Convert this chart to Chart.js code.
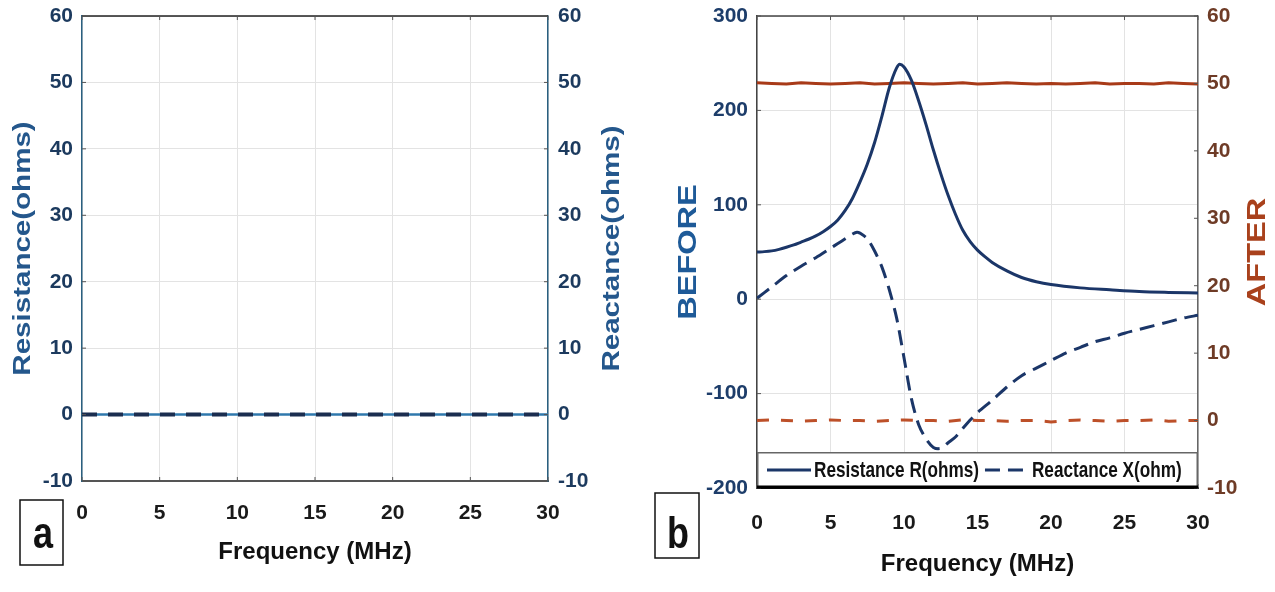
<!DOCTYPE html>
<html><head><meta charset="utf-8">
<script src="https://cdn.jsdelivr.net/npm/chart.js@4.4.1/dist/chart.umd.min.js"></script>
<style>
html,body{margin:0;padding:0;background:#fff;}
#wrap{position:relative;width:1275px;height:592px;overflow:hidden;background:#fff;}
canvas{position:absolute;top:0;}
#ca{left:0;} #cb{left:640px;}
</style></head><body>
<div id="wrap"><canvas id="ca" width="640" height="592"></canvas><canvas id="cb" width="635" height="592"></canvas></div>
<script>
const FONT = "'Liberation Sans', Arial, Helvetica, sans-serif";

// ---------- Data: panel a ----------
const freqA = [0, 5, 10, 15, 20, 25, 30];
const resistanceA = [0, 0, 0, 0, 0, 0, 0];
const reactanceA = [0, 0, 0, 0, 0, 0, 0];

// ---------- Data: panel b (BEFORE, left axis) ----------
const freqR = [0, 0.5, 1, 1.5, 2, 2.5, 3, 3.5, 4, 4.5, 5, 5.5, 6, 6.5, 7, 7.5, 8, 8.5, 9, 9.5, 9.7, 10, 10.5, 11, 11.5, 12, 12.5, 13, 13.5, 14, 14.5, 15, 15.5, 16, 17, 18, 19, 20, 22, 24, 26, 28, 30];
const resistanceBefore = [50, 50.4, 51.2, 52.8, 55, 57.5, 60.5, 63.5, 67, 71.5, 77, 84, 94, 107, 124, 143, 166, 194, 224, 245, 249, 246, 232, 210, 185, 158, 133, 110, 90, 73, 61, 52, 45, 39, 30, 23, 18.5, 15.5, 12, 10, 8.2, 7.2, 6.5];

const freqX = [0, 1, 2, 3, 4, 5, 5.5, 6, 6.5, 6.8, 7, 7.5, 8, 8.5, 9, 9.5, 10, 10.5, 11, 11.5, 12, 12.5, 13, 13.5, 14, 14.5, 15, 16, 17, 18, 19, 20, 21, 22, 23, 24, 25, 26, 27, 28, 29, 30];
const reactanceBefore = [1, 13, 25, 35, 44, 54, 59, 64, 69, 71, 70, 64, 51, 34, 10, -20, -62, -105, -133, -148, -157, -158, -152, -146, -137, -128, -120, -107, -93, -81, -73, -65, -57, -51, -45, -41, -36, -32, -28, -24, -20, -17];

// ---------- Data: panel b (AFTER, right axis) ----------
const freqAfter = [0, 1, 2, 3, 4, 5, 6, 7, 8, 9, 10, 11, 12, 13, 14, 15, 16, 17, 18, 19, 20, 21, 22, 23, 24, 25, 26, 27, 28, 29, 30];
const resistanceAfter = [50.1, 50.0, 49.9, 50.1, 50.0, 49.9, 50.0, 50.1, 49.9, 50.0, 50.1, 50.0, 49.9, 50.0, 50.1, 49.9, 50.0, 50.1, 50.0, 49.9, 50.0, 49.9, 50.0, 50.1, 49.9, 50.0, 50.0, 49.9, 50.1, 50.0, 49.9];
const reactanceAfter = [0.0, 0.1, 0.0, -0.1, 0.0, 0.1, 0.0, 0.0, -0.1, 0.0, 0.1, 0.0, 0.0, -0.1, 0.1, 0.0, 0.0, -0.1, 0.0, 0.0, -0.2, 0.0, 0.1, 0.0, -0.1, 0.0, 0.0, 0.1, -0.1, 0.0, 0.0];

// ---------- Tick labels ----------
const xTicks = [0, 5, 10, 15, 20, 25, 30];
const yTicksA = [-10, 0, 10, 20, 30, 40, 50, 60];
const yTicksBefore = [-200, -100, 0, 100, 200, 300];
const yTicksAfter = [-10, 0, 10, 20, 30, 40, 50, 60];

// ---------- Text ----------
const xTitle = 'Frequency (MHz)';
const yTitleA = 'Resistance(ohms)';
const y2TitleA = 'Reactance(ohms)';
const yTitleB = 'BEFORE';
const y2TitleB = 'AFTER';
const legendLabels = ['Resistance R(ohms)', 'Reactance X(ohm)'];

const pts = (xs, ys) => xs.map((x, i) => ({x: x, y: ys[i]}));
const setTicks = arr => s => { s.ticks = arr.map(v => ({value: v})); };
const fitY = w => s => { s.width = w; s.paddingTop = 0; s.paddingBottom = 0; };
const tickFont = {family: FONT, size: 21, weight: 'bold'};

function decoPlugin(cfg) {
  return {
    id: 'deco_' + cfg.letter,
    afterDraw(chart) {
      const ctx = chart.ctx, ca = chart.chartArea;
      ctx.save();
      ctx.strokeStyle = cfg.topColor; ctx.lineWidth = 1.5;
      ctx.beginPath(); ctx.moveTo(ca.left, ca.top); ctx.lineTo(ca.right, ca.top); ctx.stroke();
      ctx.strokeStyle = '#555'; ctx.lineWidth = 1;
      const xs = chart.scales.x;
      xs.ticks.forEach(t => {
        const px = xs.getPixelForValue(t.value);
        ctx.beginPath(); ctx.moveTo(px, ca.bottom); ctx.lineTo(px, ca.bottom - 4);
        ctx.moveTo(px, ca.top); ctx.lineTo(px, ca.top + 4); ctx.stroke();
      });
      ['y', 'y2'].forEach(id => {
        const s = chart.scales[id];
        s.ticks.forEach(t => {
          const py = s.getPixelForValue(t.value);
          ctx.beginPath();
          if (id === 'y') { ctx.moveTo(ca.left, py); ctx.lineTo(ca.left + 4, py); }
          else { ctx.moveTo(ca.right, py); ctx.lineTo(ca.right - 4, py); }
          ctx.stroke();
        });
      });
      cfg.vtitles.forEach(v => {
        ctx.save();
        ctx.translate(v.x, (ca.top + ca.bottom) / 2 + (v.dy || 0));
        ctx.rotate(-Math.PI / 2);
        ctx.scale(v.stretch, 1);
        ctx.font = 'bold ' + v.size + 'px ' + FONT;
        ctx.fillStyle = v.color;
        ctx.textAlign = 'center'; ctx.textBaseline = 'middle';
        ctx.fillText(v.text, 0, 0);
        ctx.restore();
      });
      if (cfg.legend) {
        const ds = chart.data.datasets;
        const h = 36, top = ca.bottom - h;
        ctx.fillStyle = '#fff';
        ctx.fillRect(ca.left, top, ca.right - ca.left, h);
        ctx.strokeStyle = '#666'; ctx.lineWidth = 1.5;
        ctx.strokeRect(ca.left + 0.75, top + 0.75, ca.right - ca.left - 1.5, h - 1.5);
        ctx.strokeStyle = '#000'; ctx.lineWidth = 3;
        ctx.beginPath(); ctx.moveTo(ca.left, ca.bottom - 1); ctx.lineTo(ca.right, ca.bottom - 1); ctx.stroke();
        const cy = top + h / 2;
        ctx.font = 'bold 22px ' + FONT;
        const sx = 0.78;
        let x = ca.left + 10;
        [0, 1].forEach(i => {
          const d = ds[i];
          ctx.save();
          ctx.strokeStyle = d.borderColor; ctx.lineWidth = d.borderWidth;
          ctx.setLineDash(d.borderDash || []);
          ctx.beginPath(); ctx.moveTo(x, cy); ctx.lineTo(x + 44, cy); ctx.stroke();
          ctx.restore();
          x += 47;
          ctx.save();
          ctx.translate(x, cy + 1); ctx.scale(sx, 1);
          ctx.fillStyle = '#111'; ctx.textAlign = 'left'; ctx.textBaseline = 'middle';
          ctx.fillText(legendLabels[i], 0, 0);
          ctx.restore();
          x += ctx.measureText(legendLabels[i]).width * sx + 6;
        });
      }
      const b = cfg.box;
      ctx.strokeStyle = '#111'; ctx.lineWidth = 1.5;
      ctx.fillStyle = '#fff';
      ctx.fillRect(b.x, b.y, b.w, b.h);
      ctx.strokeRect(b.x, b.y, b.w, b.h);
      ctx.save();
      ctx.translate(b.cx, b.base); ctx.scale(1, 1.22);
      ctx.font = 'bold 36px ' + FONT; ctx.fillStyle = '#111';
      ctx.textAlign = 'center'; ctx.textBaseline = 'alphabetic';
      ctx.fillText(cfg.letter, 0, 0);
      ctx.restore();
      ctx.restore();
    }
  };
}

// ---------- Panel a ----------
new Chart(document.getElementById('ca'), {
  type: 'line',
  data: {
    datasets: [
      {label: legendLabels[0], data: pts(freqA, resistanceA), yAxisID: 'y', borderColor: '#2f78ad', borderWidth: 2.5, pointRadius: 0, order: 1},
      {label: legendLabels[1], data: pts(freqA, reactanceA), yAxisID: 'y2', borderColor: '#1b2d4f', borderWidth: 4, borderDash: [15, 11], pointRadius: 0, order: 0}
    ]
  },
  options: {
    responsive: false, animation: false, devicePixelRatio: 1,
    layout: {padding: {top: 16, left: 0, right: 0, bottom: 0}},
    plugins: {legend: {display: false}, tooltip: {enabled: false}},
    scales: {
      x: {type: 'linear', min: 0, max: 30, afterBuildTicks: setTicks(xTicks), afterFit: s => { s.height = 111; },
        ticks: {color: '#1a1a1a', font: tickFont, padding: 20, maxRotation: 0, autoSkip: false},
        grid: {color: '#e3e3e3', drawTicks: false}, border: {color: '#555', width: 2},
        title: {display: true, text: xTitle, color: '#111', font: {family: FONT, size: 24, weight: 'bold'}, padding: {top: 0, bottom: 25}}},
      y: {type: 'linear', position: 'left', min: -10, max: 60, afterBuildTicks: setTicks(yTicksA), afterFit: fitY(82),
        ticks: {color: '#1c3a5e', font: tickFont, padding: 9},
        grid: {color: '#e3e3e3', drawTicks: false}, border: {color: '#2a6080', width: 1.5}},
      y2: {type: 'linear', position: 'right', min: -10, max: 60, afterBuildTicks: setTicks(yTicksA), afterFit: fitY(92),
        ticks: {color: '#1c3a5e', font: tickFont, padding: 10},
        grid: {drawOnChartArea: false, drawTicks: false}, border: {color: '#2a6080', width: 1.5}}
    }
  },
  plugins: [decoPlugin({
    letter: 'a', topColor: '#222',
    vtitles: [
      {text: yTitleA, x: 23, size: 24, stretch: 1.23, color: '#24578c'},
      {text: y2TitleA, x: 612, size: 24, stretch: 1.23, color: '#24578c'}
    ],
    legend: false,
    box: {x: 20, y: 500, w: 43, h: 65, cx: 43, base: 548}
  })]
});

// ---------- Panel b ----------
new Chart(document.getElementById('cb'), {
  type: 'line',
  data: {
    datasets: [
      {label: legendLabels[0], data: pts(freqR, resistanceBefore), yAxisID: 'y', borderColor: '#1b3668', borderWidth: 3, pointRadius: 0, cubicInterpolationMode: 'monotone', order: 1},
      {label: legendLabels[1], data: pts(freqX, reactanceBefore), yAxisID: 'y', borderColor: '#1b3668', borderWidth: 3, borderDash: [15, 8], pointRadius: 0, tension: 0.3, order: 0},
      {label: 'R after', data: pts(freqAfter, resistanceAfter), yAxisID: 'y2', borderColor: '#a83a18', borderWidth: 3, pointRadius: 0, order: 2},
      {label: 'X after', data: pts(freqAfter, reactanceAfter), yAxisID: 'y2', borderColor: '#bd5029', borderWidth: 3, borderDash: [12, 12], pointRadius: 0, order: 3}
    ]
  },
  options: {
    responsive: false, animation: false, devicePixelRatio: 1,
    layout: {padding: {top: 16, left: 0, right: 0, bottom: 0}},
    plugins: {legend: {display: false}, tooltip: {enabled: false}},
    scales: {
      x: {type: 'linear', min: 0, max: 30, afterBuildTicks: setTicks(xTicks), afterFit: s => { s.height = 104; },
        ticks: {color: '#1a1a1a', font: tickFont, padding: 23, maxRotation: 0, autoSkip: false},
        grid: {color: '#e3e3e3', drawTicks: false}, border: {color: '#111', width: 2},
        title: {display: true, text: xTitle, color: '#111', font: {family: FONT, size: 24, weight: 'bold'}, padding: {top: 0, bottom: 13}}},
      y: {type: 'linear', position: 'left', min: -200, max: 300, afterBuildTicks: setTicks(yTicksBefore), afterFit: fitY(117),
        ticks: {color: '#1d3d6a', font: tickFont, padding: 9},
        grid: {color: '#e3e3e3', drawTicks: false}, border: {color: '#444', width: 1.5}},
      y2: {type: 'linear', position: 'right', min: -10, max: 60, afterBuildTicks: setTicks(yTicksAfter), afterFit: fitY(77),
        ticks: {color: '#6e3b26', font: tickFont, padding: 9},
        grid: {drawOnChartArea: false, drawTicks: false}, border: {color: '#666', width: 1.5}}
    }
  },
  plugins: [decoPlugin({
    letter: 'b', topColor: '#444',
    vtitles: [
      {text: yTitleB, x: 49, size: 25, stretch: 1.3, color: '#1e5a98'},
      {text: y2TitleB, x: 618, size: 25, stretch: 1.3, color: '#a9411c'}
    ],
    legend: true,
    box: {x: 15, y: 493, w: 44, h: 65, cx: 38, base: 548}
  })]
});
</script>
</body></html>
